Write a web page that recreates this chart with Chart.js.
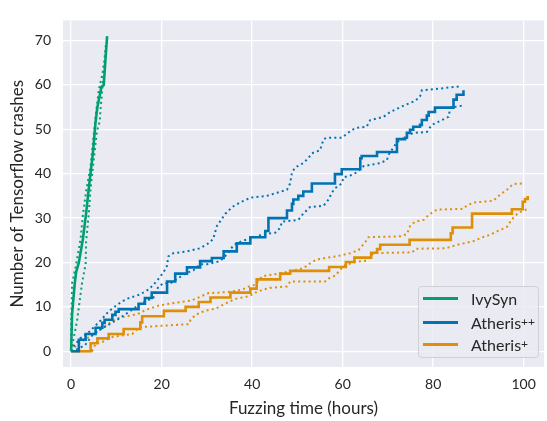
<!DOCTYPE html>
<html>
<head>
<meta charset="utf-8">
<script src="https://cdn.jsdelivr.net/npm/chart.js@4.4.1/dist/chart.umd.min.js"></script>
<style>
  body { margin: 0; background: #fff; }
  #wrap { position: relative; width: 547px; height: 421px; }
  #legend {
    position: absolute; left: 418px; top: 286px; width: 121px; height: 72px;
    box-sizing: border-box; border: 1px solid #cfcfd4; border-radius: 4px;
    background: rgba(234,234,242,0.8); font-family: Lato, sans-serif; font-size: 16px; color: #262626;
  }
  .row { position: absolute; left: 4px; height: 20px; display: flex; align-items: center; }
  .swatch { width: 35px; height: 3px; margin-right: 13px; }
  sup { font-size: 12px; vertical-align: 7px; line-height: 0; }
</style>
</head>
<body>
<div id="wrap">
  <canvas id="crashChart"></canvas>
  <div id="legend">
    <div class="row" style="top:1px"><span class="swatch" style="background:#029e73"></span>IvySyn</div>
    <div class="row" style="top:25px"><span class="swatch" style="background:#0173b2"></span>Atheris<sup>++</sup></div>
    <div class="row" style="top:47px"><span class="swatch" style="background:#de8f05"></span>Atheris<sup>+</sup></div>
  </div>
</div>
<script>
// tick labels
const xTicks = [0, 20, 40, 60, 80, 100];
const yTicks = [0, 10, 20, 30, 40, 50, 60, 70];

// [hours, crashes]
const ivyMean = [[0,0],[0.2,8.3],[0.8,15.3],[1.1,17.8],[1.7,20],[2.6,25.3],[3.3,31],[3.9,36.7],
  [4.8,44.6],[5.4,51.7],[5.8,55],[6.7,59.6],[7.2,60],[7.6,66],[7.95,71]];
const ivyHigh = [[0,0],[0,5.3],[0.2,15.3],[1.0,19],[2.1,25.4],[2.6,30.7],[3.3,36],[4.3,41.7],
  [5.0,48.9],[5.6,54.6],[6.1,58.8],[6.9,62.4],[7.4,66],[7.6,68.8]];
const ivyLow = [[0,0],[0.6,3.2],[1.3,6.8],[2.4,15.3],[3.2,19.6],[3.3,24.6],[3.9,31],[4.3,36.7],
  [5.0,43.2],[5.7,49.6],[6.3,51.7],[6.5,54.6],[7.0,60.3],[7.4,64.5],[7.8,68.5]];

const appMean = [[0,0],[1.7,2.6],[3.2,3.9],[5.4,5.3],[6.9,6.4],[7.4,7.1],[9.1,8.2],[9.8,8.9],
  [10.5,9.5],[14.9,10.7],[16.3,12],[17.8,13.2],[21.2,15.7],[23,17.5],[25.6,18.9],[28.5,20.3],
  [31.1,21],[33.7,22.5],[36.6,24.3],[39.6,25.7],[42.9,27.1],[43.6,30],[47.7,31.7],[48.8,33.2],
  [49.1,34.2],[50.2,35],[51.3,36],[53.2,37.8],[58.3,39.9],[59.8,41],[63.9,43.5],[64.2,44],
  [67.6,44.9],[72,47.8],[73.8,48.1],[74.2,49.2],[74.9,49.9],[75.6,50.6],[77.1,51],[77.5,52.1],
  [78.6,53.1],[79,53.9],[80.4,54.9],[84.5,56.7],[85.2,57.8],[86.7,58.8]];
const appHigh = [[0,0],[0.5,1.1],[2.0,2.9],[3.5,3.9],[4.9,5.3],[6.4,6.8],[8.2,8.9],[10.5,10.7],
  [12.3,11.8],[15.2,12.8],[17.1,13.9],[18.2,15],[19.7,16.8],[21.1,18.9],[21.5,21.4],[22.6,22.1],
  [25.6,22.5],[28.5,23.2],[30.3,24.3],[31.4,25.3],[32.2,28.2],[34.1,31],[35.6,32.5],[37.5,33.6],
  [39.6,34.6],[43.2,35],[45.5,35.7],[47.7,36.4],[48.4,37.8],[48.8,40.3],[49.5,41.4],[51.3,42.4],
  [52.4,43.5],[53.2,44.6],[55,45.3],[55.8,47.8],[56.5,48.1],[59.8,48.1],[61.7,49.6],[62.8,50.3],
  [65.3,50.6],[66.1,52.1],[69,52.8],[70.5,53.9],[73.4,55.3],[76,56.4],[77.1,57.4],[77.5,58.8],
  [81.5,59.2],[86,59.7]];
const appLow = [[0,0],[1.5,0.5],[3.1,1.4],[4.9,3.9],[7.1,5.3],[9.0,6.4],[10.8,7.5],[13.4,9.3],
  [14.9,10.4],[16.7,11.4],[18.2,12.1],[19.3,14.6],[20.4,15.3],[21.9,15.3],[23,16],[25.2,17.5],
  [27,18.2],[28.5,19.6],[30,19.6],[32.9,20.3],[34.4,21.8],[35.9,23.9],[38.1,25],[39.6,25.3],
  [42.5,26.4],[45.1,26.7],[46.2,27.8],[46.6,29.2],[50.2,29.6],[51.3,31],[52.8,32.5],[55.8,32.8],
  [56.9,34.2],[57.6,35.7],[58.3,36.7],[59.8,37.8],[60.2,39.2],[61.7,39.6],[63.1,40.3],[64.6,41.7],
  [68.3,42.4],[69.8,43.1],[70.1,44.2],[72,47.1],[74.2,48.5],[75.6,49.2],[78.6,49.4],[79.7,51],
  [83.4,52.8],[83.8,54.9],[86.3,55.3]];

const apMean = [[0,0],[4.3,1.8],[5.8,2.9],[8.3,3.9],[11.6,5],[15.3,6.5],[15.7,7.9],[20.5,9.1],
  [25.3,10],[28.2,11.1],[30.8,12.1],[35.2,13.2],[39.6,14.1],[41,16.2],[46.2,17.5],[48.4,18.1],
  [57,19],[60.7,20.1],[62.6,21.1],[66.3,22.2],[67.6,23],[68.3,24],[74.8,25.1],[83.9,26.6],
  [84.3,27.9],[88.6,31],[97.4,32],[99.8,33.7],[100.3,34.3],[100.9,35]];
const apHigh = [[0,0],[1.0,1.1],[2.1,2.1],[4.6,3.6],[6.1,4.6],[7.6,5.7],[9.1,6.8],[10.5,7.5],
  [13.8,8.2],[15.3,8.6],[16.4,9.3],[17.9,9.8],[19.4,10.3],[21.6,10.7],[24.2,11.1],[26.4,11.4],
  [27.5,11.8],[29,12.5],[30.4,13.1],[34.1,13.3],[36.3,13.6],[37.8,13.9],[39.3,14.6],[40.7,15],
  [42.2,16.9],[45.8,17.5],[48.5,18],[51.5,18.8],[52.8,19.8],[54.3,20.7],[58.7,21.4],[61.7,22.1],
  [63.5,22.8],[65,24.6],[65.7,25.7],[72.7,25.9],[74.2,26.4],[74.9,28.2],[76,29.2],[77.9,29.6],
  [79,30.7],[80.8,31.9],[86.7,32.1],[87.4,32.8],[88.9,33.5],[93.3,33.9],[94.8,35.3],[96.3,36.4],
  [97.7,37.7],[100,37.8]];
const apLow = [[0,0],[4.6,0],[5.0,0.7],[5.4,1.8],[6.9,2.1],[9.1,3.2],[11.6,3.6],[13.5,3.9],
  [15,5.4],[16.4,5.5],[19.4,5.7],[26,6.1],[26.4,7.1],[27.5,8.2],[29,8.9],[30.4,9.3],[31.9,9.6],
  [34.8,11.1],[36.3,11.8],[39.3,12.4],[40.7,13.2],[42.2,13.8],[43.9,14.3],[47.7,14.6],[48.4,15.7],
  [56.1,15.7],[56.9,16.4],[58.5,17.1],[59.2,18.1],[60.5,19.4],[63.1,20.2],[65.3,20.4],[66.8,22.1],
  [75.4,22.3],[76.2,23.1],[82.8,23.2],[85,23.9],[88.9,24.8],[90.7,25.6],[92.5,26.2],[94.1,27],
  [96.3,28],[97.3,29.6],[98.8,31.2],[101,32.1]];

const green = '#029e73', blue = '#0173b2', orange = '#de8f05';

function pts(list) { return list.map(p => ({ x: p[0], y: p[1] })); }
function solid(data, color, step) {
  return { data: pts(data), borderColor: color, borderWidth: 2.6, stepped: step, pointRadius: 0 };
}
function dotted(data, color) {
  return { data: pts(data), borderColor: color, borderWidth: 2, borderDash: [2, 3.2], pointRadius: 0 };
}

const plotBg = {
  id: 'plotBg',
  beforeDraw(chart) {
    const { ctx, chartArea: a } = chart;
    ctx.save();
    ctx.fillStyle = '#eaeaf2';
    ctx.fillRect(a.left, a.top, a.right - a.left, a.bottom - a.top);
    ctx.restore();
  }
};

const font = 'Lato, sans-serif';
const ctx = document.getElementById('crashChart').getContext('2d');
new Chart(ctx, {
  type: 'line',
  data: {
    datasets: [
      solid(ivyMean, green, false), dotted(ivyHigh, green), dotted(ivyLow, green),
      solid(appMean, blue, true), dotted(appHigh, blue), dotted(appLow, blue),
      solid(apMean, orange, true), dotted(apHigh, orange), dotted(apLow, orange)
    ]
  },
  options: {
    responsive: true,
    maintainAspectRatio: false,
    animation: false,
    layout: { padding: { top: 4, right: 3, left: 0, bottom: 0 } },
    plugins: { legend: { display: false }, tooltip: { enabled: false } },
    scales: {
      x: {
        type: 'linear', min: -1.8, max: 104.5,
        afterBuildTicks: s => { s.ticks = xTicks.map(v => ({ value: v })); },
        afterFit: s => { s.height = 54; },
        grid: { color: '#ffffff', lineWidth: 1.3, drawTicks: false },
        border: { display: false },
        ticks: { color: '#262626', font: { family: font, size: 14 }, padding: 9 },
        title: { display: true, text: 'Fuzzing time (hours)', color: '#262626',
          font: { family: font, size: 17 }, padding: { top: 0, bottom: 2 } }
      },
      y: {
        min: -3.55, max: 74.55,
        afterBuildTicks: s => { s.ticks = yTicks.map(v => ({ value: v })); },
        afterFit: s => { s.width = 63; },
        grid: { color: '#ffffff', lineWidth: 1.3, drawTicks: false },
        border: { display: false },
        ticks: { color: '#262626', font: { family: font, size: 14 }, padding: 12 },
        title: { display: true, text: 'Number of Tensorflow crashes', color: '#262626',
          font: { family: font, size: 17 }, padding: { top: 7, bottom: 0 } }
      }
    }
  },
  plugins: [plotBg]
});
</script>
</body>
</html>
